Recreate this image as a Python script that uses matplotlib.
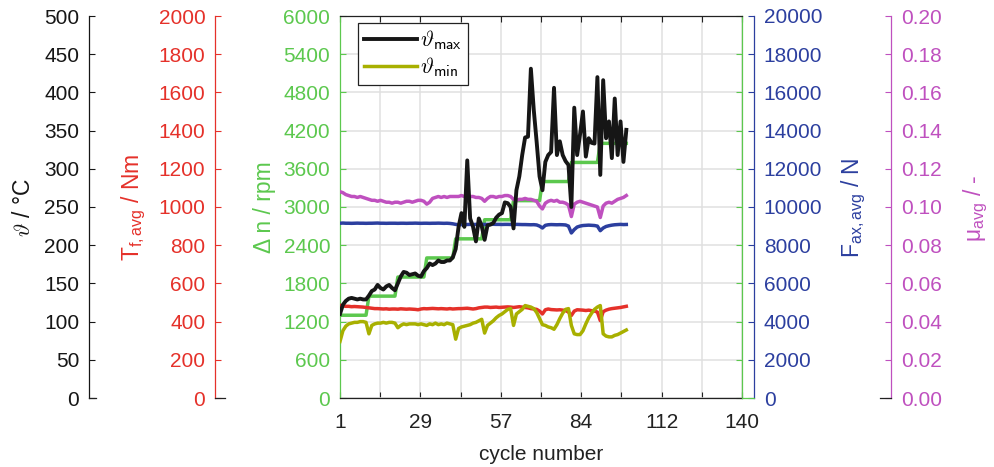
import matplotlib
matplotlib.use('Agg')
import matplotlib.pyplot as plt
from matplotlib.font_manager import FontProperties
import numpy as np

plt.rcParams['font.family'] = ['Liberation Sans', 'DejaVu Sans']
plt.rcParams['mathtext.fontset'] = 'custom'
plt.rcParams['mathtext.rm'] = 'Liberation Sans'
plt.rcParams['mathtext.it'] = 'Liberation Sans:italic'
plt.rcParams['mathtext.bf'] = 'Liberation Sans:bold'

# ---------------- data ----------------
cycles = list(range(1, 101))

theta_max = [110, 122, 127, 130, 131, 130, 129, 130, 129, 129,
             134, 140, 142, 148, 144, 142, 146, 148, 144, 141,
             150, 159, 165, 164, 161, 162, 163, 160, 159, 166,
             170, 176, 174, 176, 180, 178, 178, 180, 180, 184,
             195, 224, 242, 224, 311, 235, 224, 205, 235, 225,
             207, 226, 227, 229, 236, 240, 242, 256, 255, 250,
             222, 272, 290, 318, 341, 342, 431, 377, 335, 290,
             272, 309, 318, 322, 406, 318, 336, 318, 310, 305,
             250, 380, 318, 345, 375, 316, 340, 334, 333, 420,
             292, 416, 340, 362, 314, 392, 318, 362, 309, 351]

theta_min = [74, 88, 94, 97, 98, 99, 99, 100, 100, 99,
             84, 95, 97, 98, 98, 99, 98, 99, 99, 98,
             92, 95, 97, 96, 97, 97, 97, 96, 97, 96,
             95, 97, 96, 98, 96, 97, 96, 98, 97, 96,
             77, 91, 93, 94, 95, 96, 98, 99, 101, 103,
             85, 95, 98, 101, 105, 108, 110, 113, 116, 117,
             95, 110, 113, 116, 121, 120, 119, 117, 112, 104,
             96, 95, 93, 92, 90, 96, 104, 111, 116, 117,
             95, 84, 83, 83, 88, 97, 105, 111, 116, 119,
             121, 84, 81, 80, 80, 82, 83, 85, 87, 89]

delta_n = [1300, 1300, 1300, 1300, 1300, 1300, 1300, 1300, 1300, 1300,
           1600, 1600, 1600, 1600, 1600, 1600, 1600, 1600, 1600, 1600,
           1900, 1900, 1900, 1900, 1900, 1900, 1900, 1900, 1900, 1900,
           2200, 2200, 2200, 2200, 2200, 2200, 2200, 2200, 2200, 2200,
           2500, 2500, 2500, 2500, 2500, 2500, 2500, 2500, 2500, 2500,
           2800, 2800, 2800, 2800, 2800, 2800, 2800, 2800, 2800, 2800,
           3100, 3100, 3100, 3100, 3100, 3100, 3100, 3100, 3100, 3100,
           3400, 3400, 3400, 3400, 3400, 3400, 3400, 3400, 3400, 3400,
           3700, 3700, 3700, 3700, 3700, 3700, 3700, 3700, 3700, 3700,
           4000, 4000, 4000, 4000, 4000, 4000, 4000, 4000, 4000, 4000]

torque = [485, 482, 480, 480, 478, 479, 478, 477, 476, 474,
          472, 470, 468, 468, 467, 466, 467, 465, 466, 466,
          465, 467, 466, 465, 466, 465, 464, 462, 466, 468,
          467, 468, 469, 468, 467, 468, 467, 466, 468, 466,
          467, 468, 468, 469, 470, 468, 466, 468, 472, 474,
          476, 476, 474, 475, 476, 474, 475, 476, 477, 476,
          474, 476, 478, 476, 474, 472, 468, 466, 464, 455,
          440, 462, 466, 463, 462, 461, 462, 460, 458, 450,
          432, 455, 462, 461, 460, 458, 460, 457, 455, 450,
          405, 452, 460, 465, 468, 470, 472, 474, 477, 480]

f_ax = [9150, 9160, 9150, 9150, 9145, 9150, 9155, 9150, 9150, 9145,
        9150, 9150, 9155, 9160, 9150, 9150, 9145, 9150, 9150, 9150,
        9145, 9150, 9150, 9145, 9150, 9150, 9155, 9150, 9145, 9150,
        9150, 9145, 9150, 9150, 9155, 9150, 9145, 9150, 9140, 9120,
        9090, 9070, 9080, 9090, 9085, 9090, 9080, 9090, 9095, 9090,
        9085, 9090, 9090, 9095, 9090, 9090, 9085, 9090, 9090, 9085,
        9080, 9090, 9085, 9080, 9080, 9075, 9070, 9075, 9060, 9000,
        8900, 9040, 9070, 9080, 9075, 9070, 9075, 9070, 9060, 9000,
        8640, 8820, 8950, 9000, 9030, 9040, 9050, 9040, 9030, 9000,
        8760, 8900, 8980, 9020, 9050, 9070, 9080, 9090, 9080, 9085]

mu = [0.1080, 0.1075, 0.1065, 0.1060, 0.1055, 0.1055, 0.1050, 0.1055, 0.1050, 0.1045,
      0.1040, 0.1035, 0.1035, 0.1030, 0.1035, 0.1030, 0.1025, 0.1025, 0.1020, 0.1025,
      0.1025, 0.1020, 0.1025, 0.1030, 0.1030, 0.1025, 0.1030, 0.1035, 0.1035, 0.1030,
      0.1015, 0.1025, 0.1045, 0.1050, 0.1055, 0.1050, 0.1055, 0.1050, 0.1055, 0.1055,
      0.1055, 0.1055, 0.1060, 0.1055, 0.1050, 0.1055, 0.1055, 0.1050, 0.1050, 0.1045,
      0.1030, 0.1045, 0.1055, 0.1055, 0.1050, 0.1055, 0.1055, 0.1060, 0.1060, 0.1055,
      0.1040, 0.1035, 0.1040, 0.1040, 0.1045, 0.1040, 0.1040, 0.1035, 0.1030, 0.1005,
      0.0990, 0.1020, 0.1030, 0.1035, 0.1030, 0.1035, 0.1025, 0.1025, 0.1020, 0.1010,
      0.0950, 0.1015, 0.1025, 0.1030, 0.1025, 0.1020, 0.1015, 0.1010, 0.1005, 0.1000,
      0.0945, 0.1005, 0.1020, 0.1025, 0.1020, 0.1030, 0.1040, 0.1045, 0.1050, 0.1060]

x_tick_labels = ['1', '29', '57', '84', '112', '140']
theta_ticks = [0, 50, 100, 150, 200, 250, 300, 350, 400, 450, 500]
torque_ticks = [0, 200, 400, 600, 800, 1000, 1200, 1400, 1600, 1800, 2000]
dn_ticks = [0, 600, 1200, 1800, 2400, 3000, 3600, 4200, 4800, 5400, 6000]
fax_ticks = [0, 2000, 4000, 6000, 8000, 10000, 12000, 14000, 16000, 18000, 20000]
mu_ticks = [0.00, 0.02, 0.04, 0.06, 0.08, 0.10, 0.12, 0.14, 0.16, 0.18, 0.20]

# ---------------- styling ----------------
C_BLACK = '#161616'
C_OLIVE = '#a8b000'
C_GREEN = '#5cc84e'
C_RED = '#e5312a'
C_BLUE = '#2c3f9f'
C_MAG = '#bf50bf'
C_GRID = '#e0e0e0'
FS = 15
FL = 16.5
LW = 2.5

W, H = 994, 467
fig = plt.figure(figsize=(W / 100, H / 100), dpi=100)

BOT, TOP = 398, 16
b = 1 - BOT / H
h = (BOT - TOP) / H
X0, X1 = 340, 742
main_rect = [X0 / W, b, (X1 - X0) / W, h]

# main axes (green Δn)
ax = fig.add_axes(main_rect)
ax.set_xlim(1, 140)
ax.set_ylim(0, 6000)
xt = np.linspace(1, 140, 11)
ax.set_xticks(xt)
lab = []
for i in range(11):
    lab.append(x_tick_labels[i // 2] if i % 2 == 0 else '')
ax.set_xticklabels(lab)
ax.set_yticks(dn_ticks)
ax.set_yticklabels([str(v) for v in dn_ticks])
ax.grid(True, color=C_GRID, linewidth=1.1)
ax.set_axisbelow(True)
for s in ['top', 'bottom']:
    ax.spines[s].set_color('#222222')
    ax.spines[s].set_linewidth(0.9)
for s in ['left', 'right']:
    ax.spines[s].set_color(C_GREEN)
    ax.spines[s].set_linewidth(0.9)
ax.tick_params(axis='x', direction='in', length=4, width=0.8, top=True, bottom=True,
               colors='#222222', labelsize=FS, pad=11)
ax.tick_params(axis='y', direction='in', length=4, width=0.8, left=True, right=True,
               colors=C_GREEN, labelsize=FS, pad=7)
ax.plot(cycles, delta_n, color=C_GREEN, lw=LW, zorder=3)


def overlay(ylim):
    o = fig.add_axes(main_rect, sharex=ax)
    o.set_ylim(*ylim)
    o.set_axis_off()
    o.patch.set_visible(False)
    return o


def side_axis(o, left_px, width_px, side, color, ticks, fmt):
    s = fig.add_axes([left_px / W, b, width_px / W, h], sharey=o)
    s.patch.set_visible(False)
    s.set_xticks([])
    for k in ['top', 'left', 'right']:
        s.spines[k].set_visible(False)
    s.spines[side].set_visible(True)
    s.spines[side].set_color(color)
    s.spines[side].set_linewidth(0.9)
    s.spines['bottom'].set_color('#222222')
    s.spines['bottom'].set_linewidth(0.9)
    s.set_yticks(ticks)
    s.set_yticklabels([fmt(v) for v in ticks])
    if side == 'right':
        s.yaxis.tick_right()
    s.tick_params(axis='y', direction='in', length=4, width=0.8, colors=color,
                  labelsize=FS, pad=7)
    return s


o_mag = overlay((0, 0.2))
o_mag.plot(cycles, mu, color=C_MAG, lw=LW)
o_blue = overlay((0, 20000))
o_blue.plot(cycles, f_ax, color=C_BLUE, lw=LW)
o_red = overlay((0, 2000))
o_red.plot(cycles, torque, color=C_RED, lw=LW)
o_theta = overlay((0, 500))
l_min, = o_theta.plot(cycles, theta_min, color=C_OLIVE, lw=LW)
l_max, = o_theta.plot(cycles, theta_max, color=C_BLACK, lw=2.8)

side_axis(o_theta, 89, 7, 'left', C_BLACK, theta_ticks, lambda v: str(v))
side_axis(o_red, 215, 10, 'left', C_RED, torque_ticks, lambda v: str(v))
sb = side_axis(o_blue, 742, 12, 'right', C_BLUE, fax_ticks, lambda v: str(v))
sb.spines['bottom'].set_color(C_GREEN)
side_axis(o_mag, 880, 11, 'right', C_MAG, mu_ticks, lambda v: '%.2f' % v)

leg_prop = FontProperties(family='Liberation Sans', size=16, math_fontfamily='cm')
leg = o_theta.legend([l_max, l_min],
                     [r'$\vartheta_{\mathsf{max}}$', r'$\vartheta_{\mathsf{min}}$'],
                     loc='upper left', bbox_to_anchor=((358 - X0) / (X1 - X0), (BOT - 23) / (BOT - TOP)),
                     prop=leg_prop, handlelength=2.4, handletextpad=0.15, borderpad=0.25,
                     labelspacing=0.15, borderaxespad=0, fancybox=False, framealpha=1,
                     edgecolor='#222222')
leg.get_frame().set_linewidth(0.9)
leg.set_zorder(20)


def fpx(x, y):
    return x / W, 1 - y / H


fig.text(*fpx(23.5, 207), r'$\vartheta$ / °C', rotation=90, ha='center', va='center',
         fontsize=FL, color=C_BLACK, math_fontfamily='cm')
fig.text(*fpx(134, 207), r'T$_{\mathrm{f,avg}}$ / Nm', rotation=90, ha='center', va='center',
         fontsize=FL, color=C_RED)
fig.text(*fpx(264, 207), 'Δ n / rpm', rotation=90, ha='center', va='center',
         fontsize=FL, color=C_GREEN)
fig.text(*fpx(854, 208), r'F$_{\mathrm{ax,avg}}$ / N', rotation=90, ha='center', va='center',
         fontsize=FL, color=C_BLUE)
fig.text(*fpx(976, 208), r'μ$_{\mathrm{avg}}$ / -', rotation=90, ha='center', va='center',
         fontsize=FL, color=C_MAG)
fig.text(*fpx(541, 454), 'cycle number', ha='center', va='center', fontsize=FS,
         color='#222222')

fig.savefig('out.png', dpi=100)
